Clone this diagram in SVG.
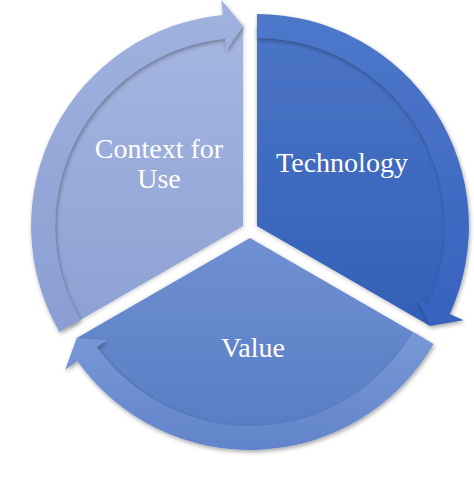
<svg xmlns="http://www.w3.org/2000/svg" width="474" height="482" viewBox="0 0 474 482">
  <defs>
    <linearGradient id="gC" x1="0" y1="0" x2="0" y2="1">
      <stop offset="0" stop-color="#a5b6e0"/>
      <stop offset="1" stop-color="#8da1d4"/>
    </linearGradient>
    <linearGradient id="gCb" x1="0" y1="0" x2="0" y2="1">
      <stop offset="0" stop-color="#a0b2de"/>
      <stop offset="1" stop-color="#8a9ed3"/>
    </linearGradient>
    <linearGradient id="gT" x1="0" y1="0" x2="0" y2="1">
      <stop offset="0" stop-color="#4c75c7"/>
      <stop offset="1" stop-color="#3260b6"/>
    </linearGradient>
    <linearGradient id="gTb" x1="0" y1="0" x2="0" y2="1">
      <stop offset="0" stop-color="#4e78ca"/>
      <stop offset="1" stop-color="#3762bd"/>
    </linearGradient>
    <linearGradient id="gV" x1="0" y1="0" x2="0" y2="1">
      <stop offset="0" stop-color="#6f90d1"/>
      <stop offset="1" stop-color="#587cc5"/>
    </linearGradient>
    <linearGradient id="gVb" x1="0" y1="0" x2="0" y2="1">
      <stop offset="0" stop-color="#7898d6"/>
      <stop offset="1" stop-color="#6284ca"/>
    </linearGradient>
    <filter id="sh" x="-10%" y="-10%" width="120%" height="120%">
      <feDropShadow dx="1" dy="2" stdDeviation="2" flood-color="#000" flood-opacity="0.35"/>
    </filter>
    <filter id="shw" x="-10%" y="-10%" width="120%" height="120%">
      <feDropShadow dx="0" dy="1" stdDeviation="2" flood-color="#000" flood-opacity="0.25"/>
    </filter>
  </defs>
  <style>
    .lbl { font-family: "Liberation Serif", "Times New Roman", serif; font-size: 28px; fill: #ffffff; text-anchor: middle; }
    .wedge { filter: url(#shw); }
    .band { filter: url(#sh); }
  </style>
  <rect width="474" height="482" fill="#ffffff"/>

  <g id="context">
    <path class="wedge" d="M 243.07,226 L 69.86,326 A 200 200 0 0 1 243.07,26 Z" fill="url(#gC)"/>
    <text class="lbl" x="159" y="158">Context for</text>
    <text class="lbl" x="159" y="188">Use</text>
  </g>

  <g id="technology">
    <path class="wedge" d="M 256.93,226 L 256.93,26 A 200 200 0 0 1 430.13,326 Z" fill="url(#gT)"/>
    <text class="lbl" x="342" y="172">Technology</text>
  </g>

  <g id="value">
    <path class="wedge" d="M 250,238 L 423.21,338 A 200 200 0 0 1 76.79,338 Z" fill="url(#gV)"/>
    <text class="lbl" x="253" y="357">Value</text>
  </g>

  <g id="connectors">
    <path class="band" d="M 59.47,332 A 212 212 0 0 1 222.75,14.98 L 221.31,0.04 L 243.07,26 L 226.20,50.81 L 225.05,38.86 A 188 188 0 0 0 80.26,320 Z" fill="url(#gCb)"/>
    <path class="band" d="M 256.93,14 A 212 212 0 0 1 449.85,313.92 L 463.50,320.14 L 430.14,326 L 417.09,298.99 L 428.01,303.96 A 188 188 0 0 0 256.93,38 Z" fill="url(#gTb)"/>
    <path class="band" d="M 433.60,344 A 212 212 0 0 1 77.41,361.11 L 65.19,369.82 L 76.79,338 L 106.71,340.20 L 96.95,347.17 A 188 188 0 0 0 412.81,332 Z" fill="url(#gVb)"/>
  </g>
</svg>
